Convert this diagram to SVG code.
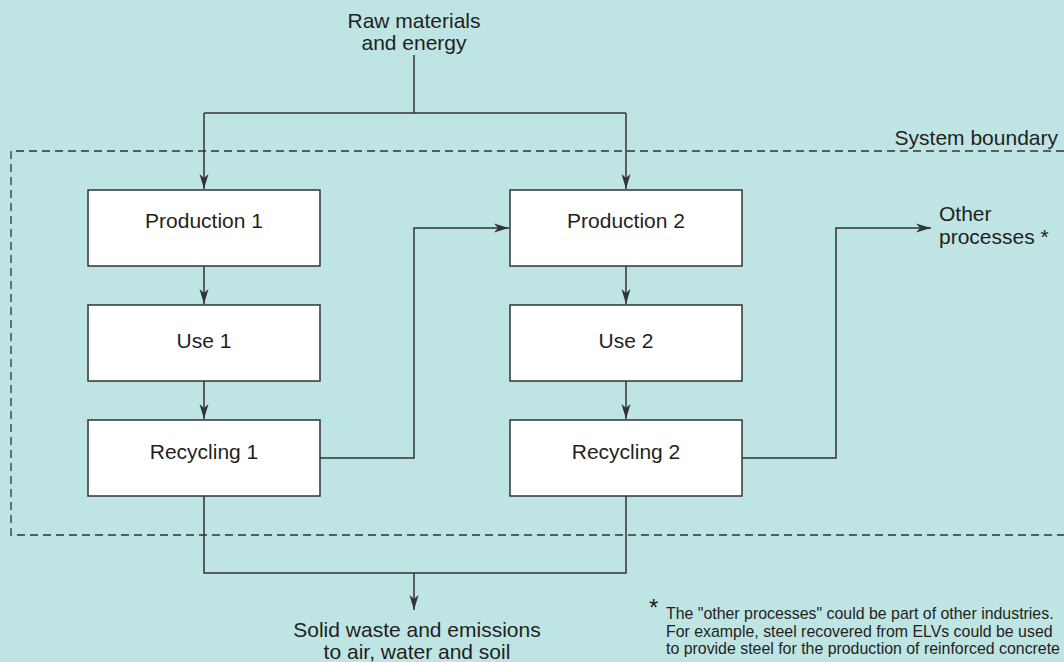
<svg xmlns="http://www.w3.org/2000/svg" width="1064" height="662" viewBox="0 0 1064 662">
<style>
.bg{fill:#bee5e4}
.box{fill:#ffffff;stroke:#333333;stroke-width:1.5}
.ln{fill:none;stroke:#333333;stroke-width:1.5}
.dash{fill:none;stroke:#333333;stroke-width:1.3;stroke-dasharray:8 5}
.t{font-family:"Liberation Sans",Arial,sans-serif;font-size:21px;fill:#231f20;text-anchor:middle}
.tl{font-family:"Liberation Sans",Arial,sans-serif;font-size:21px;fill:#231f20}
.fn{font-family:"Liberation Sans",Arial,sans-serif;font-size:15.9px;fill:#231f20}
</style>
<defs>
<marker id="arr" markerUnits="userSpaceOnUse" markerWidth="16" markerHeight="12" viewBox="0 0 16 12" refX="15" refY="6" orient="auto">
<path d="M0,1.5 L15,6 L0,10.5 L4,6 z" fill="#333333"/>
</marker>
</defs>
<rect class="bg" x="0" y="0" width="1064" height="662"/>
<g id="boundary">
<path class="dash" d="M1064,151 H11 V535 H1064"/>
<text class="tl" x="1058" y="145" style="text-anchor:end">System boundary</text>
</g>
<g id="connectors">
<path class="ln" d="M414,55 V113"/>
<path class="ln" d="M204,113 H626"/>
<path class="ln" d="M204,113 V189" marker-end="url(#arr)"/>
<path class="ln" d="M626,113 V189" marker-end="url(#arr)"/>
<path class="ln" d="M204,266 V304" marker-end="url(#arr)"/>
<path class="ln" d="M204,381 V419" marker-end="url(#arr)"/>
<path class="ln" d="M626,266 V304" marker-end="url(#arr)"/>
<path class="ln" d="M626,381 V419" marker-end="url(#arr)"/>
<path class="ln" d="M320,458 H414 V228 H509" marker-end="url(#arr)"/>
<path class="ln" d="M742,458 H836 V228 H931" marker-end="url(#arr)"/>
<path class="ln" d="M204,496 V573 H626 V496"/>
<path class="ln" d="M414,573 V610" marker-end="url(#arr)"/>
</g>
<g id="input">
<text class="t" x="414" y="28">Raw materials</text>
<text class="t" x="414" y="50">and energy</text>
</g>
<g id="production1">
<rect class="box" x="88" y="190" width="232" height="76"/>
<text class="t" x="204" y="228">Production 1</text>
</g>
<g id="use1">
<rect class="box" x="88" y="305" width="232" height="76"/>
<text class="t" x="204" y="348">Use 1</text>
</g>
<g id="recycling1">
<rect class="box" x="88" y="420" width="232" height="76"/>
<text class="t" x="204" y="459">Recycling 1</text>
</g>
<g id="production2">
<rect class="box" x="510" y="190" width="232" height="76"/>
<text class="t" x="626" y="228">Production 2</text>
</g>
<g id="use2">
<rect class="box" x="510" y="305" width="232" height="76"/>
<text class="t" x="626" y="348">Use 2</text>
</g>
<g id="recycling2">
<rect class="box" x="510" y="420" width="232" height="76"/>
<text class="t" x="626" y="459">Recycling 2</text>
</g>
<g id="other">
<text class="tl" x="939" y="221">Other</text>
<text class="tl" x="939" y="244">processes *</text>
</g>
<g id="output">
<text class="t" x="417" y="637">Solid waste and emissions</text>
<text class="t" x="417" y="659">to air, water and soil</text>
</g>
<g id="footnote">
<text class="tl" x="649" y="616" style="font-size:24px">*</text>
<text class="fn" x="666" y="619">The "other processes" could be part of other industries.</text>
<text class="fn" x="666" y="636.5">For example, steel recovered from ELVs could be used</text>
<text class="fn" x="666" y="654">to provide steel for the production of reinforced concrete</text>
</g>
</svg>
